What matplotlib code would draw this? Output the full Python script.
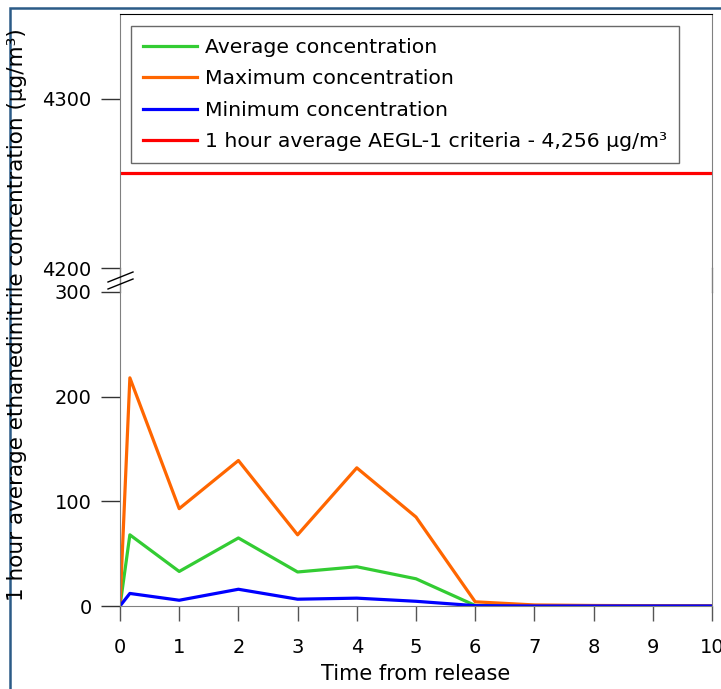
"""
Broken-axis plot of 1 hour average ethanedinitrile concentration against time.
"""
# Library import
import matplotlib
matplotlib.use("Agg")
import matplotlib.pyplot as plt
from matplotlib.patches import Rectangle
from matplotlib.lines import Line2D

# Data
time_hours = [0, 1 / 6, 1, 2, 3, 4, 5, 6, 7, 8, 9, 10]
conc_avg = [0, 68, 33, 65, 32.5, 37.5, 26, 0.5, 0, 0, 0, 0]
conc_max = [0, 218, 93, 139, 68, 132, 85, 4, 1, 0.5, 0.3, 0.2]
conc_min = [0, 12, 5.5, 16, 6.5, 7.5, 4.5, 0.3, 0, 0, 0, 0]
aegl_level = 4256
x_ticks = list(range(11))
upper_ticks = [4200, 4300]
lower_ticks = [0, 100, 200, 300]

# Style
plt.rcParams["font.family"] = ["DejaVu Sans"]
plt.rcParams["font.size"] = 14
W, H = 721, 689
spine_grey = "#808080"

fig = plt.figure(figsize=(W / 100, H / 100), dpi=100)

# Axes placement (pixel based)
left, right = 120 / W, 712 / W
ax_top = fig.add_axes([left, 1 - 268 / H, right - left, (268 - 14) / H])
ax_bot = fig.add_axes([left, 1 - 606 / H, right - left, (606 - 292) / H])

# Lines
for ax in (ax_top, ax_bot):
    ax.plot(time_hours, conc_avg, color="#33cc33", lw=2.3, label="Average concentration")
    ax.plot(time_hours, conc_max, color="#ff6600", lw=2.3, label="Maximum concentration")
    ax.plot(time_hours, conc_min, color="#0000ff", lw=2.3, label="Minimum concentration")
    ax.axhline(aegl_level, color="#ff0000", lw=2.3,
               label="1 hour average AEGL-1 criteria - 4,256 μg/m³")
    ax.set_xlim(0, 10)

# Upper axes
ax_top.set_ylim(4200, 4350)
ax_top.set_yticks(upper_ticks)
ax_top.set_xticks([])
ax_top.spines["bottom"].set_visible(False)
ax_top.spines["top"].set_color("black")
ax_top.spines["left"].set_color(spine_grey)
ax_top.spines["right"].set_color(spine_grey)
ax_top.tick_params(axis="y", length=13.5, width=1, pad=7, color="#333333")

# Lower axes
ax_bot.set_ylim(0, 300)
ax_bot.set_yticks(lower_ticks)
ax_bot.set_xticks(x_ticks)
ax_bot.spines["top"].set_visible(False)
for side in ("left", "right", "bottom"):
    ax_bot.spines[side].set_color(spine_grey)
ax_bot.tick_params(axis="y", length=13.5, width=1, pad=7, color="#333333")
ax_bot.tick_params(axis="x", length=11, width=1, pad=12, color="#555555")
ax_bot.set_xlabel("Time from release", labelpad=5, fontsize=15)

# Continuous spines through the gap
for xp in (120, 712):
    fig.add_artist(Line2D([xp / W, xp / W], [1 - 268 / H, 1 - 292 / H],
                          color=spine_grey, lw=1))
# Break marks
for y0 in (282, 289):
    fig.add_artist(Line2D([108 / W, 133 / W], [1 - y0 / H, 1 - (y0 - 10) / H],
                          color="black", lw=1))

# Legend
leg = ax_top.legend(loc="upper left", bbox_to_anchor=(0.019, 0.953), frameon=True,
                    fancybox=False, edgecolor="#444444", handlelength=2.6,
                    borderaxespad=0, borderpad=0.6, labelspacing=0.6,
                    handletextpad=0.4, fontsize=14.7)
leg.get_frame().set_linewidth(1)

# Y label spanning both axes
fig.text(17 / W, 1 - 315 / H,
         "1 hour average ethanedinitrile concentration (μg/m³)",
         rotation=90, ha="center", va="center", fontsize=15.5)

# Outer border
fig.add_artist(Rectangle((10 / W, -0.1), 1.2, 1.1 - 8 / H, transform=fig.transFigure,
                         fill=False, edgecolor="#2b5b87", lw=1.8))

fig.savefig("out.png", dpi=100)
